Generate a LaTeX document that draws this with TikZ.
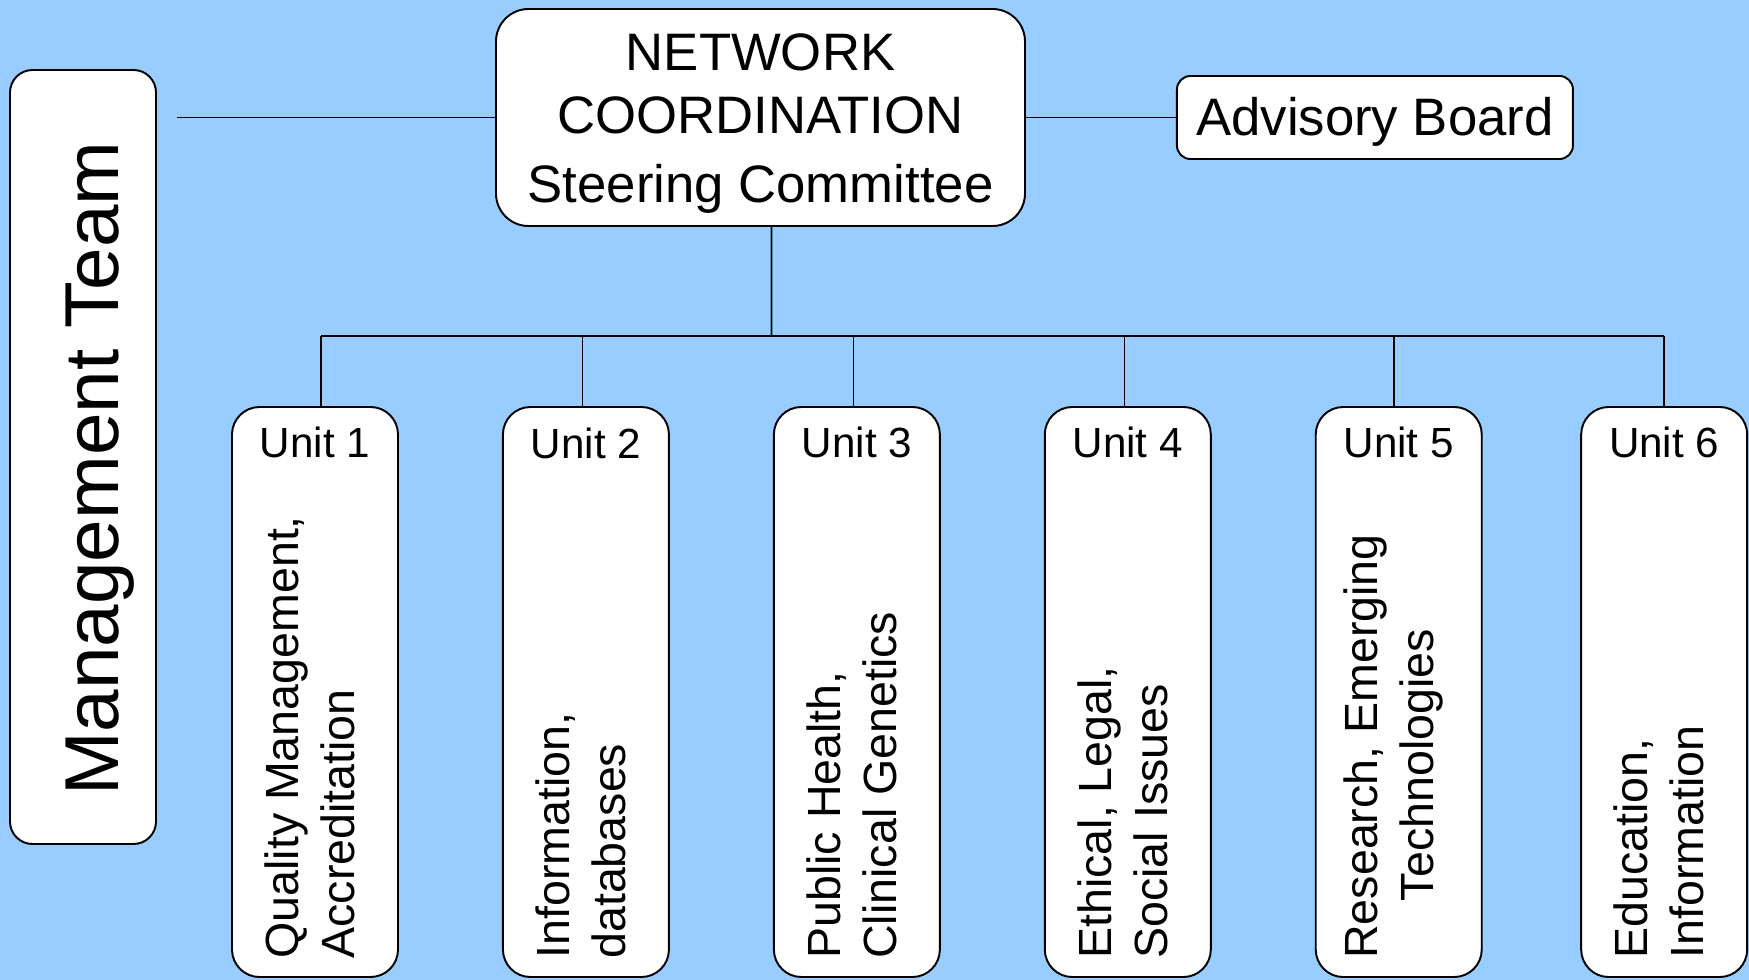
\documentclass[tikz,border=0pt]{standalone}
\usepackage{fontspec}
\setmainfont{Liberation Sans}
\usetikzlibrary{positioning,calc}
\definecolor{skyback}{RGB}{153,204,255}
\tikzset{
  orgbox/.style={draw=black,fill=white,line width=1.1pt,inner sep=0pt,align=center},
  unitbox/.style={orgbox,rounded corners=5.5mm,minimum width=3.32cm,minimum height=11.4cm},
  unittitle/.style={anchor=base,inner sep=0pt,font=\fontsize{24}{28}\selectfont},
  unittext/.style={rotate=90,anchor=west,align=left,inner sep=0pt,font=\fontsize{26.5}{31.7}\selectfont},
  link/.style={line width=0.9pt}
}

\begin{document}
\begin{tikzpicture}
  \useasboundingbox (0,0) rectangle (34.98,-19.6);
  \fill[skyback] (0,0) rectangle (34.98,-19.6);

  \node [orgbox,rounded corners=6.5mm,minimum width=10.58cm,minimum height=4.34cm,text height=102.4pt,
         font=\fontsize{30}{37.5}\selectfont] (n0) at (15.21,-2.35)
        {NETWORK\\[-1.8pt]COORDINATION\\[1.6pt]Steering Committee};
  \node [orgbox,rounded corners=2.7mm,minimum width=7.92cm,minimum height=1.66cm,text depth=1pt,
         font=\fontsize{30}{36}\selectfont,right=3.0cm of n0] (a0) {Advisory Board};
  \node [orgbox,rounded corners=4.5mm,minimum width=2.92cm,minimum height=15.48cm] (m0) at (1.66,-9.14) {};
  \node [rotate=90,anchor=base,inner sep=0pt,font=\fontsize{43.5}{52}\selectfont] (m1)
        at ($(m0.center)+(0.71,-0.23)$) {Management Team};

  \node [unitbox] (u1) at (6.3,-13.84) {};
  \node [unitbox,right=2.06cm of u1] (u2) {};
  \node [unitbox,right=2.06cm of u2] (u3) {};
  \node [unitbox,right=2.06cm of u3] (u4) {};
  \node [unitbox,right=2.06cm of u4] (u5) {};
  \node [unitbox,right=1.95cm of u5] (u6) {};

  \node [unittitle] (t1) at ($(u1.north)+(0,-1.02)$) {Unit 1};
  \node [unittitle] (t2) at ($(u2.north)+(0,-1.05)$) {Unit 2};
  \node [unittitle] (t3) at ($(u3.north)+(0,-1.02)$) {Unit 3};
  \node [unittitle] (t4) at ($(u4.north)+(0,-1.02)$) {Unit 4};
  \node [unittitle] (t5) at ($(u5.north)+(0,-1.02)$) {Unit 5};
  \node [unittitle] (t6) at ($(u6.north)+(0,-1.02)$) {Unit 6};

  \node [unittext] (d1) at ($(u1.south)+(-0.1,0.38)$) {Quality Management,\\Accreditation};
  \node [unittext] (d2) at ($(u2.south)+(-0.1,0.38)$) {Information,\\databases};
  \node [unittext] (d3) at ($(u3.south)+(-0.1,0.38)$) {Public Health,\\Clinical Genetics};
  \node [unittext] (d4) at ($(u4.south)+(-0.1,0.38)$) {Ethical, Legal,\\Social Issues};
  \node [unittext] (d5) at ($(u5.south)+(-0.1,0.38)$) {Research, Emerging\\\hspace*{1.15cm}Technologies};
  \node [unittext] (d6) at ($(u6.south)+(-0.1,0.38)$) {Education,\\Information};

  \coordinate (bus) at ($(n0.south)+(0.22,-2.18)$);

  \draw [link] ([xshift=4mm]m0.east |- n0.west) -- (n0.west);
  \draw [link] (n0.east) -- (a0.west);
  \draw [link] ([xshift=2.2mm]n0.south) -- (bus);
  \draw [link] ([xshift=1.2mm]u1.north |- bus) -- (u6.north |- bus);
  \draw [link] ([xshift=1.2mm]u1.north) -- ([xshift=1.2mm]u1.north |- bus)
               ([xshift=-0.7mm]u2.north) -- ([xshift=-0.7mm]u2.north |- bus)
               ([xshift=-0.7mm]u3.north) -- ([xshift=-0.7mm]u3.north |- bus)
               ([xshift=-0.7mm]u4.north) -- ([xshift=-0.7mm]u4.north |- bus)
               ([xshift=-0.9mm]u5.north) -- ([xshift=-0.9mm]u5.north |- bus)
               (u6.north) -- (u6.north |- bus);
\end{tikzpicture}
\end{document}
